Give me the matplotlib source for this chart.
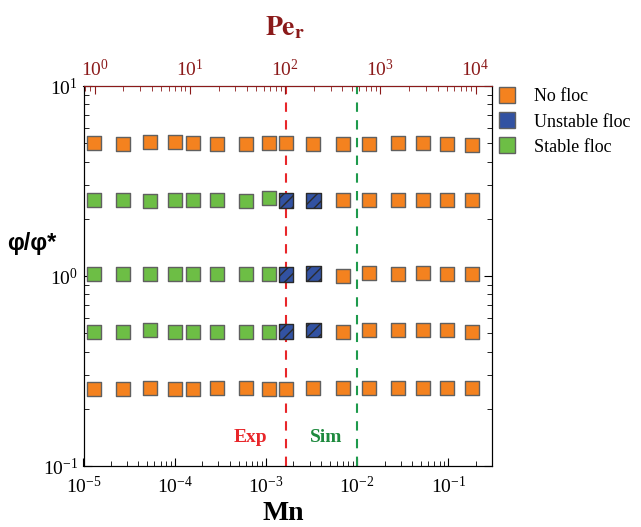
import numpy as np
import matplotlib.pyplot as plt
from matplotlib.lines import Line2D

plt.rcParams['font.family'] = ['Liberation Serif', 'DejaVu Serif']
plt.rcParams['mathtext.fontset'] = 'stix'
plt.rcParams['axes.unicode_minus'] = False
plt.rcParams['hatch.color'] = 'black'
plt.rcParams['hatch.linewidth'] = 1.0

# Mason number of each run
mn = [1.3e-5, 2.7e-5, 5.4e-5, 1.0e-4, 1.6e-4, 2.9e-4, 6.0e-4, 1.08e-3,
      1.66e-3, 3.3e-3, 7.0e-3, 1.35e-2, 2.8e-2, 5.3e-2, 9.7e-2, 1.82e-1]

# volume fraction phi/phi* of each run, one list per concentration
phi_5 = [5.0, 4.95, 5.1, 5.05, 5.0, 4.95, 4.95, 5.0, 5.0, 4.95, 4.95, 4.95, 5.0, 5.0, 4.95, 4.9]
phi_25 = [2.5, 2.5, 2.48, 2.52, 2.52, 2.5, 2.48, 2.56, 2.5, 2.5, 2.5, 2.5, 2.5, 2.52, 2.5, 2.5]
phi_1 = [1.02, 1.02, 1.02, 1.02, 1.02, 1.02, 1.02, 1.02, 1.02, 1.03, 1.0, 1.04, 1.03, 1.04, 1.03, 1.02]
phi_05 = [0.51, 0.51, 0.52, 0.51, 0.51, 0.51, 0.51, 0.51, 0.51, 0.52, 0.51, 0.52, 0.52, 0.52, 0.52, 0.51]
phi_025 = [0.255, 0.255, 0.257, 0.255, 0.255, 0.258, 0.257, 0.255, 0.253, 0.257, 0.257, 0.257, 0.257, 0.257, 0.257, 0.257]

# flocculation outcome: 0 = no floc, 1 = unstable floc, 2 = stable floc
state_5 = [0] * 16
state_25 = [2] * 8 + [1] * 2 + [0] * 6
state_1 = [2] * 8 + [1] * 2 + [0] * 6
state_05 = [2] * 8 + [1] * 2 + [0] * 6
state_025 = [0] * 16

mn_exp = 1.64e-3
mn_sim = 1.0e-2

labels = ['No floc', 'Unstable floc', 'Stable floc']
colors = ['#F4821F', '#3252A2', '#6DBE45']
edges = ['#606060', '#2a2a2a', '#606060']
hatches = [None, '///', None]

fig = plt.figure(figsize=(6.41, 5.27), dpi=100)
ax = fig.add_axes([83.5 / 641, 1 - 466 / 527, (492 - 83.5) / 641, (466 - 86) / 527])

phi_all = np.array([phi_5, phi_25, phi_1, phi_05, phi_025])
state_all = np.array([state_5, state_25, state_1, state_05, state_025])
mn_all = np.tile(mn, (5, 1))

for k in range(3):
    sel = state_all == k
    ax.scatter(mn_all[sel], phi_all[sel], s=108, marker='s', c=colors[k],
               edgecolors=edges[k], linewidths=1.0, hatch=hatches[k], zorder=3)

ax.axvline(mn_exp, color='#E8262A', ls=(0, (4.5, 4)), lw=1.5, zorder=2)
ax.axvline(mn_sim, color='#1E9A4C', ls=(0, (4.5, 4)), lw=1.5, zorder=2)

ax.set_xscale('log')
ax.set_yscale('log')
ax.set_xlim(1e-5, 0.30)
ax.set_ylim(0.1, 10)
ax.tick_params(which='both', direction='in', right=True, labelsize=14)
ax.tick_params(which='major', length=6)
ax.tick_params(which='minor', length=3.5)
ax.tick_params(axis='x', pad=7)
ax.tick_params(axis='y', pad=4)

# Peclet number on top
ax2 = ax.twiny()
ax2.set_xscale('log')
ax2.set_xlim(0.764, 14900)
ax2.tick_params(which='both', direction='in', colors='#8B1A1A', labelsize=14, pad=4)
ax2.tick_params(which='major', length=6)
ax2.tick_params(which='minor', length=3.5)
ax2.spines['top'].set_color('#8B1A1A')

fig.text(250 / 641, 1 - 437 / 527, 'Exp', color='#E8262A', fontsize=14,
         fontweight='bold', ha='center', va='center')
fig.text(326 / 641, 1 - 437 / 527, 'Sim', color='#1E8A3E', fontsize=14,
         fontweight='bold', ha='center', va='center')
fig.text(283 / 641, 1 - 514 / 527, 'Mn', fontsize=20, fontweight='bold',
         ha='center', va='center')
fig.text(285 / 641, 1 - 28 / 527, r'$\mathbf{Pe}_\mathbf{r}$', fontsize=20,
         color='#8B1A1A', ha='center', va='center')
fig.text(32 / 641, 1 - 243 / 527, 'φ/φ*', fontsize=17, fontweight='bold',
         family='Liberation Sans', ha='center', va='center')

handles = [Line2D([], [], ls='none', marker='s', ms=11, mfc=c, mec='#606060', mew=1.0)
           for c in colors]
ax.legend(handles, labels, loc='upper left', bbox_to_anchor=(1.0, 1.008), frameon=False,
          fontsize=13, handlelength=1.1, handletextpad=0.95, labelspacing=0.45,
          borderpad=0.3, borderaxespad=0)

fig.savefig('out.png', dpi=100)
